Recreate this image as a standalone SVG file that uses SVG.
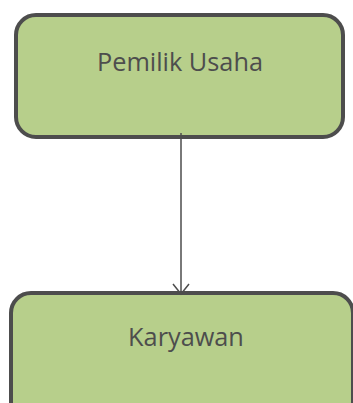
<svg xmlns="http://www.w3.org/2000/svg" width="353" height="403" viewBox="0 0 353 403">
<style>
.box{fill:#b7cf8b;stroke:#4d4d4d;stroke-width:4}
.lbl{font-family:"Open Sans",sans-serif;font-size:25.3px;fill:#4d4d4d;text-anchor:middle}
.conn{stroke:#4d4d4d;stroke-width:1.5;fill:none}
</style>
<rect width="353" height="403" fill="#ffffff"/>
<g id="node-pemilik">
<rect class="box" x="16" y="15" width="327" height="122" rx="20"/>
<text class="lbl" x="180" y="71">Pemilik Usaha</text>
</g>
<g id="node-karyawan">
<rect class="box" x="11" y="293" width="342" height="130" rx="20"/>
<text class="lbl" x="186" y="346">Karyawan</text>
</g>
<g id="connectors">
<line class="conn" x1="181" y1="133" x2="181" y2="293"/>
<polyline class="conn" points="173,284 181,294 189,284"/>
</g>
</svg>
